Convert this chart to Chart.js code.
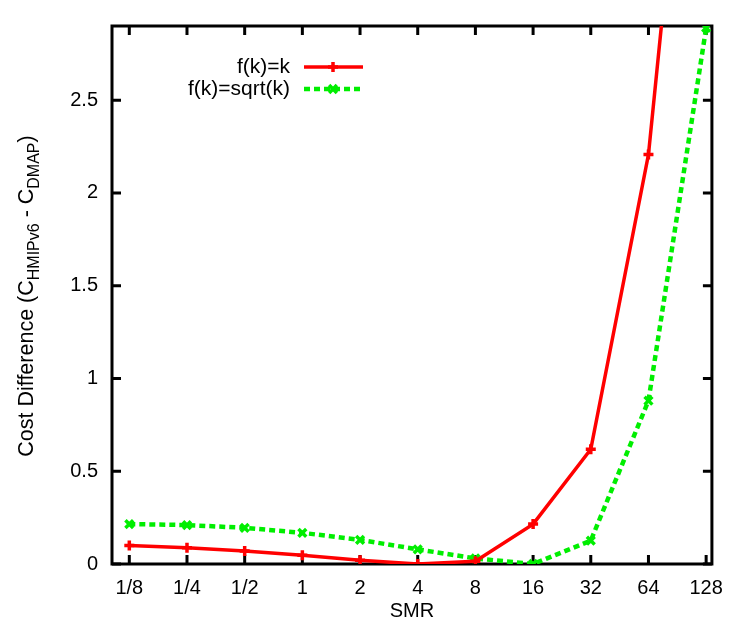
<!DOCTYPE html>
<html>
<head>
<meta charset="utf-8">
<script src="https://cdn.jsdelivr.net/npm/chart.js@4.4.0/dist/chart.umd.min.js"></script>
<style>
  body { margin: 0; background: #fff; }
  #wrap { width: 735px; height: 633px; }
</style>
</head>
<body>
<div id="wrap"><canvas id="costChart" width="735" height="633"></canvas></div>
<script>
// SMR categories along the x axis
const smrLabels = ['1/8', '1/4', '1/2', '1', '2', '4', '8', '16', '32', '64', '128'];
// cost difference for each weighting function
const costLinear = [0.100, 0.088, 0.070, 0.047, 0.020, 0.000, 0.015, 0.215, 0.618, 2.207, 5.30];
const costSqrt = [0.215, 0.210, 0.195, 0.168, 0.130, 0.079, 0.030, 0.000, 0.126, 0.880, 2.89];
const yTicks = [0, 0.5, 1, 1.5, 2, 2.5];
const seriesNames = ['f(k)=k', 'f(k)=sqrt(k)'];

const FONT = 'Liberation Sans, Arial, Helvetica, sans-serif';
const RED = '#ff0000';
const GREEN = '#00ee00';

const toPoints = (arr) => arr.map((v, i) => ({ x: i, y: v }));

// frame with inward ticks on all four sides (gnuplot look)
const framePlugin = {
  id: 'frame',
  beforeDatasetsDraw(chart) {
    const { ctx, chartArea: a, scales: { x, y } } = chart;
    ctx.save();
    ctx.strokeStyle = '#000';
    ctx.lineWidth = 3;
    ctx.beginPath();
    smrLabels.forEach((_, i) => {
      const px = x.getPixelForValue(i);
      ctx.moveTo(px, a.bottom); ctx.lineTo(px, a.bottom - 9);
      ctx.moveTo(px, a.top); ctx.lineTo(px, a.top + 9);
    });
    yTicks.forEach(v => {
      const py = y.getPixelForValue(v);
      ctx.moveTo(a.left, py); ctx.lineTo(a.left + 9, py);
      ctx.moveTo(a.right, py); ctx.lineTo(a.right - 9, py);
    });
    ctx.stroke();
    ctx.strokeRect(a.left, a.top, a.right - a.left, a.bottom - a.top);
    ctx.restore();
  },
  afterDraw(chart) {
    const { ctx, chartArea: a } = chart;
    ctx.save();
    ctx.fillStyle = '#000';

    // x axis title
    ctx.font = '20px ' + FONT;
    ctx.textAlign = 'center';
    ctx.textBaseline = 'middle';
    ctx.fillText('SMR', (a.left + a.right) / 2, 611);

    // y axis title with subscripts
    const parts = [
      ['Cost Difference (C', false],
      ['HMIPv6', true],
      [' - C', false],
      ['DMAP', true],
      [')', false]
    ];
    const fontFor = sub => (sub ? '16px ' : '21.5px ') + FONT;
    let total = 0;
    parts.forEach(([t, sub]) => { ctx.font = fontFor(sub); total += ctx.measureText(t).width; });
    ctx.translate(33, 296);
    ctx.rotate(-Math.PI / 2);
    ctx.textAlign = 'left';
    ctx.textBaseline = 'alphabetic';
    let cx = -total / 2;
    parts.forEach(([t, sub]) => {
      ctx.font = fontFor(sub);
      ctx.fillText(t, cx, sub ? 6 : 0);
      cx += ctx.measureText(t).width;
    });
    ctx.restore();

    // key: label on the left, line sample on the right
    ctx.save();
    ctx.font = '21px ' + FONT;
    ctx.textAlign = 'right';
    ctx.textBaseline = 'middle';
    chart.data.datasets.forEach((ds, i) => {
      const ky = 67 + i * 22;
      ctx.fillStyle = '#000';
      ctx.fillText(seriesNames[i], 290, ky);
      ctx.strokeStyle = ds.borderColor;
      ctx.lineWidth = ds.borderWidth;
      ctx.setLineDash(ds.borderDash || []);
      ctx.beginPath();
      ctx.moveTo(304, ky); ctx.lineTo(363, ky);
      ctx.stroke();
      ctx.setLineDash([]);
      ctx.lineWidth = ds.pointBorderWidth;
      Chart.helpers.drawPoint(ctx, {
        pointStyle: ds.pointStyle, radius: ds.pointRadius,
        rotation: 0, borderWidth: ds.pointBorderWidth
      }, 333, ky);
    });
    ctx.restore();
  }
};

new Chart(document.getElementById('costChart'), {
  type: 'line',
  data: {
    datasets: [
      {
        label: seriesNames[0],
        data: toPoints(costLinear),
        borderColor: RED,
        backgroundColor: RED,
        borderWidth: 3.5,
        pointStyle: 'cross',
        pointRadius: 5,
        pointBorderWidth: 3.5,
        pointBorderColor: RED,
        tension: 0,
        fill: false
      },
      {
        label: seriesNames[1],
        data: toPoints(costSqrt),
        borderColor: GREEN,
        backgroundColor: GREEN,
        borderWidth: 4.5,
        borderDash: [6, 4],
        pointStyle: 'crossRot',
        pointRadius: 5.5,
        pointBorderWidth: 3.5,
        pointBorderColor: GREEN,
        tension: 0,
        fill: false
      }
    ]
  },
  options: {
    responsive: false,
    animation: false,
    layout: { padding: { top: 10, right: 18, left: 0, bottom: 0 } },
    plugins: {
      legend: { display: false },
      tooltip: { enabled: false }
    },
    scales: {
      x: {
        type: 'linear',
        min: -0.3,
        max: 10.1,
        grid: { display: false, drawTicks: false },
        border: { display: false },
        afterBuildTicks: scale => { scale.ticks = smrLabels.map((_, i) => ({ value: i })); },
        afterFit: scale => { scale.height = 69; },
        ticks: {
          color: '#000',
          font: { family: FONT, size: 20 },
          padding: 12,
          maxRotation: 0,
          autoSkip: false,
          callback: v => smrLabels[v]
        }
      },
      y: {
        min: 0,
        max: 2.9,
        grid: { display: false, drawTicks: false },
        border: { display: false },
        afterBuildTicks: scale => { scale.ticks = yTicks.map(v => ({ value: v })); },
        afterFit: scale => { scale.width = 112; },
        ticks: {
          color: '#000',
          font: { family: FONT, size: 20 },
          padding: 14,
          callback: v => String(v)
        }
      }
    }
  },
  plugins: [framePlugin]
});
</script>
</body>
</html>
